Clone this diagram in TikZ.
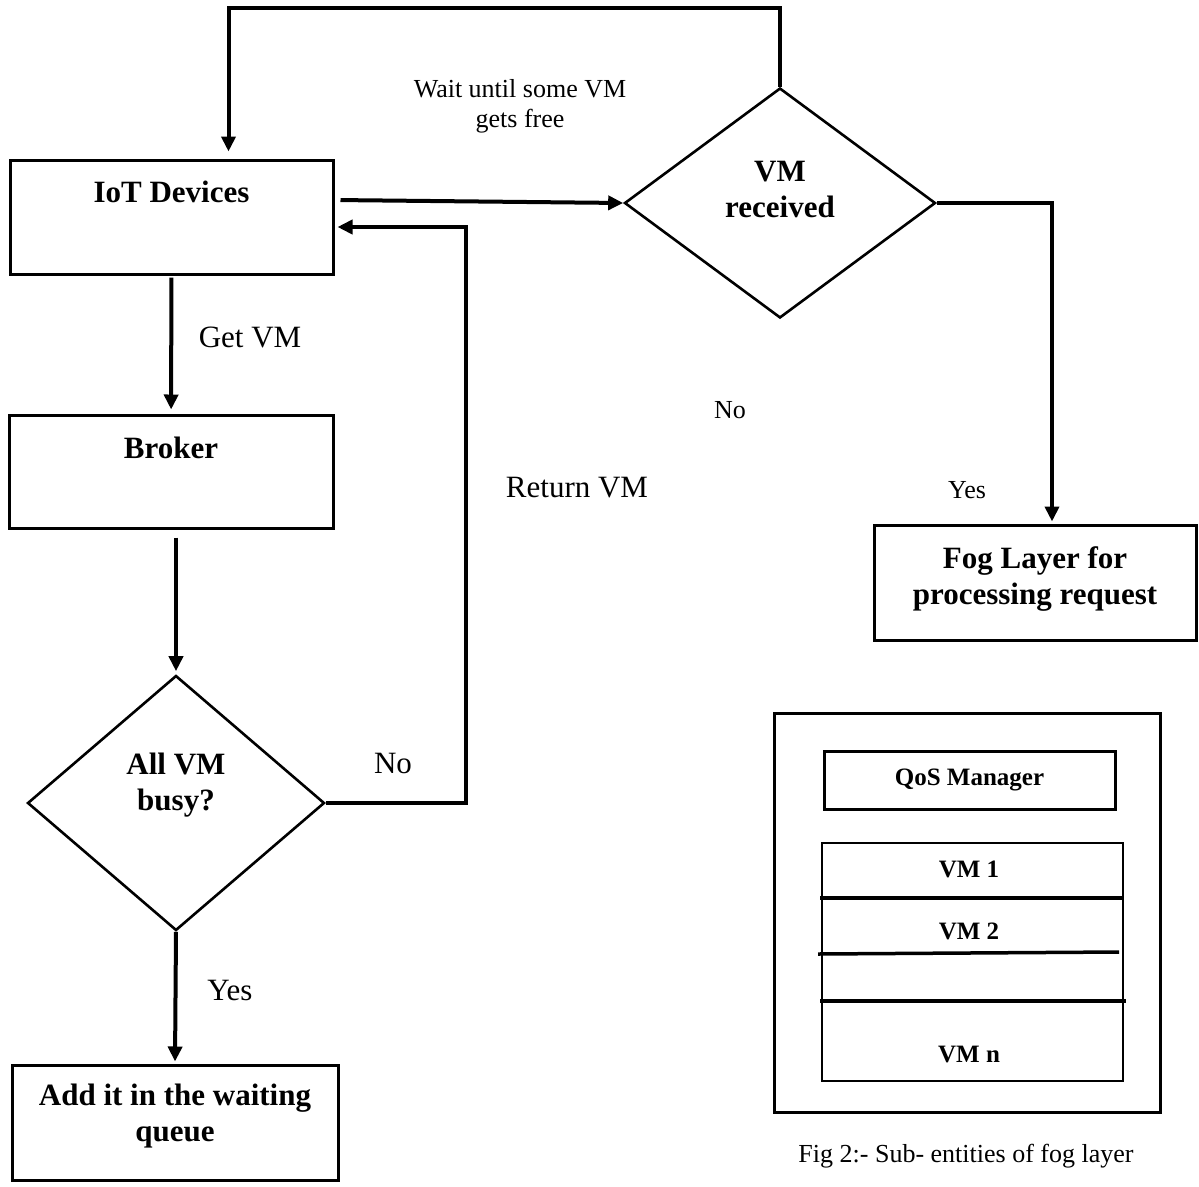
\documentclass[tikz,border=0pt]{standalone}
\usepackage{fontspec}
\setmainfont{Liberation Serif}
\usetikzlibrary{shapes.geometric,arrows.meta}

\begin{document}
\begin{tikzpicture}[x=1pt,y=-1pt,
    box/.style={draw, line width=3pt, minimum width=323pt, minimum height=114pt, inner sep=0pt},
    decision/.style={draw, diamond, line width=2.6pt, inner sep=0pt},
    big/.style={font=\fontsize{31}{36}\selectfont},
    bigbold/.style={font=\fontsize{31}{36}\selectfont\bfseries, align=center},
    vmtext/.style={font=\fontsize{25}{30}\selectfont\bfseries},
    small/.style={font=\fontsize{26}{30}\selectfont, align=center},
    arr/.style={line width=4pt, -{Triangle[length=15pt,width=14pt]}}]
    \useasboundingbox (0,0) rectangle (1199,1186);

    % flow chart
    \node[box, label={[bigbold, yshift=25pt]center:IoT Devices}] (iot) at (171.5,217) {};
    \node[box, minimum width=324pt, minimum height=113pt, label={[bigbold, yshift=24pt]center:Broker}] (broker) at (171,471.5) {};
    \node[decision, minimum width=297pt, minimum height=255pt, label={[bigbold, yshift=18pt]center:All VM\\busy?}] (busy) at (176,803) {};
    \node[box, minimum width=326pt, minimum height=115pt, label={[bigbold, yshift=6pt]center:Add it in the waiting\\queue}] (queue) at (175,1122.5) {};
    \node[decision, minimum width=311pt, minimum height=230pt, label={[bigbold, yshift=14pt]center:VM\\received}] (vmrec) at (780,203) {};
    \node[box, minimum width=322pt, minimum height=115pt, label={[bigbold, yshift=4pt]center:Fog Layer for\\processing request}] (fog) at (1035,582.5) {};

    \draw[arr, shorten <=2pt, shorten >=4pt] (iot) -- (broker);
    \draw[arr, shorten <=8pt, shorten >=3pt] (broker.south -| busy.north) -- (busy.north);
    \draw[arr, shorten >=2pt] (busy.south) -- (queue.north);
    \draw[arr, shorten >=3pt] (busy.east) -- (busy.east -| 466,0) |- ([yshift=-10pt]iot.east);
    \draw[arr, shorten <=6pt] ([yshift=17pt]iot.east) -- (vmrec.west);
    \draw[arr, shorten >=2pt] (vmrec.east) -| ([xshift=17pt]fog.north);
    \draw[arr, shorten >=7pt] (vmrec.north) -- (vmrec.north |- 0,8) -| ([xshift=57pt]iot.north);

    \node[big] (getvm) at (250,337) {Get VM};
    \node[big] (retvm) at (577,488) {Return VM};
    \node[big] (nobusy) at (393,763) {No};
    \node[big] (yesbusy) at (230,990) {Yes};
    \node[small] (norec) at (730,410) {No};
    \node[small] (yesrec) at (967,490) {Yes};
    \node[small] (wait) at (520,106) {Wait until some VM\\gets free};

    % sub-entities of fog layer
    \node[draw, line width=3pt, minimum width=386pt, minimum height=399pt] (layer) at (967,912.5) {};
    \node[draw, line width=3pt, minimum width=291pt, minimum height=58pt, vmtext] (qos) at (969.5,780) {QoS Manager};
    \node[draw, line width=1.3pt, minimum width=301pt, minimum height=238pt] (vms) at (972.5,962) {};
    \draw[line width=3.5pt] (820,898) -- (1124,898);
    \draw[line width=3.5pt] (818,954) -- (1119,952);
    \draw[line width=3.5pt] (820,1001) -- (1126,1001);
    \node[vmtext] (vm1) at (969,869) {VM 1};
    \node[vmtext] (vm2) at (969,931) {VM 2};
    \node[vmtext] (vmn) at (969,1054) {VM n};
    \node[small] (caption) at (966,1156) {Fig 2:- Sub- entities of fog layer};
\end{tikzpicture}
\end{document}
